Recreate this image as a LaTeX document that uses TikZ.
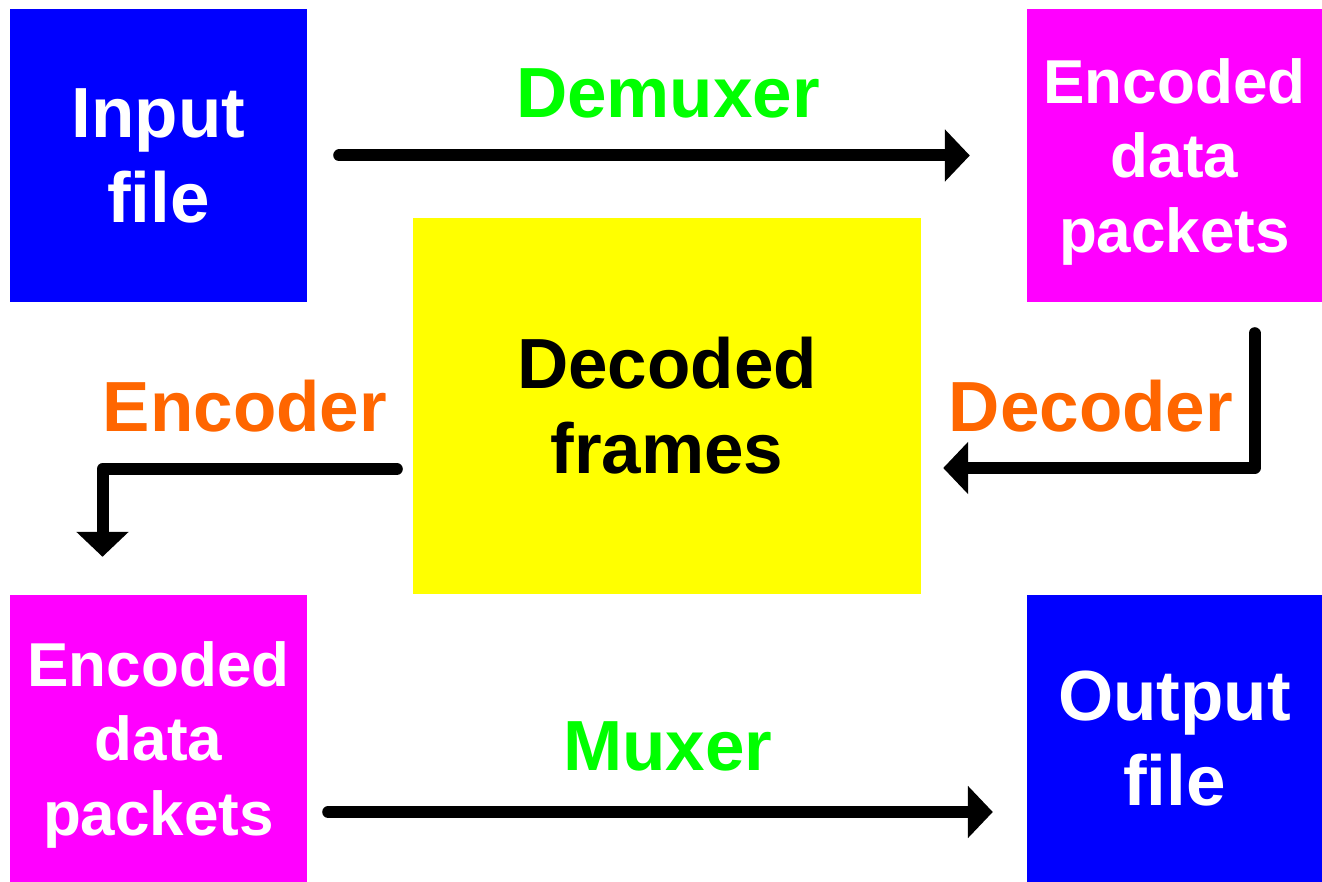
\documentclass[tikz,border=0pt]{standalone}
\usepackage{fontspec}
\setmainfont{Liberation Sans}
\usetikzlibrary{arrows.meta}
\definecolor{cblue}{HTML}{0000FF}
\definecolor{cmag}{HTML}{FF00FF}
\definecolor{cyel}{HTML}{FFFF00}
\definecolor{cgreen}{HTML}{00FF00}
\definecolor{corange}{HTML}{FF6600}
\tikzset{
  box/.style={rectangle, draw=none, inner sep=0pt, align=center, text=white,
    font=\fontsize{71}{85}\selectfont\bfseries},
  smallbox/.style={box, text depth=0pt, font=\fontsize{62}{74.5}\selectfont\bfseries},
  lbl/.style={anchor=base, inner sep=0pt, font=\fontsize{71}{85}\selectfont\bfseries},
  arr/.style={line width=12pt, line cap=round, line join=round,
    -{Triangle[length=25pt,width=51pt]}},
}
\begin{document}
\begin{tikzpicture}[x=1pt,y=-1pt]
\useasboundingbox (0,0) rectangle (1322,882);
\node[box, fill=cblue, minimum width=297pt, minimum height=293pt] (in) at (158.5,155.5) {Input\\file};
\node[smallbox, fill=cmag, minimum width=295pt, minimum height=293pt] (ed1) at (1174.5,155.5) {Encoded\\data\\packets};
\node[box, fill=cyel, text=black, minimum width=508pt, minimum height=376pt] (df) at (667,406) {Decoded\\frames};
\node[smallbox, fill=cmag, minimum width=297pt, minimum height=287pt] (ed2) at (158.5,738.5) {Encoded\\data\\packets};
\node[box, fill=cblue, minimum width=295pt, minimum height=287pt] (out) at (1174.5,738.5) {Output\\file};

\node[lbl, text=cgreen] (ldemux) at (668,118) {Demuxer};
\node[lbl, text=corange] (ldec) at (1091,431) {Decoder};
\node[lbl, text=corange] (lenc) at (245,431) {Encoder};
\node[lbl, text=cgreen] (lmux) at (668,770) {Muxer};

\draw[arr] ([xshift=32pt]in.east) -- ([xshift=-57pt]ed1.west);
\draw[arr] ([xshift=80pt,yshift=-31pt]ed1.south) |- ([xshift=22pt,yshift=-62pt]df.east);
\draw[arr] ([xshift=-16pt,yshift=-63pt]df.west) -| ([xshift=-56pt,yshift=38pt]ed2.north);
\draw[arr] ([xshift=21pt,yshift=-73.5pt]ed2.east) -- ([xshift=-34pt,yshift=-73.5pt]out.west);
\end{tikzpicture}
\end{document}
